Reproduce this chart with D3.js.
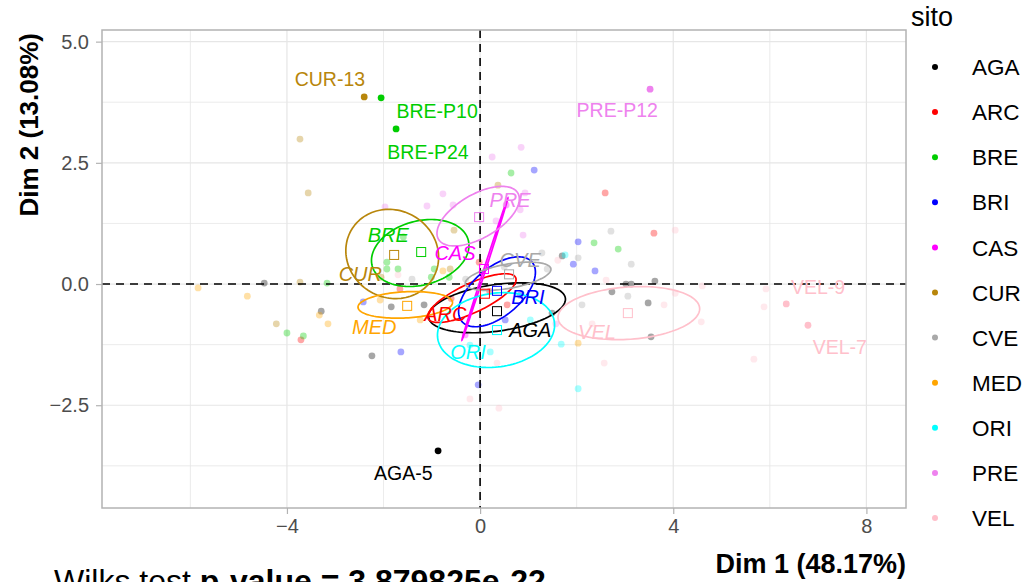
<!DOCTYPE html>
<html><head><meta charset="utf-8">
<script src="https://cdn.jsdelivr.net/npm/d3@7"></script>
<style>body{margin:0;background:#fff}svg{display:block;font-family:"Liberation Sans",Arial,sans-serif}</style>
</head><body><svg id="c" width="1024" height="582"></svg>
<script>
const sites = ["AGA","ARC","BRE","BRI","CAS","CUR","CVE","MED","ORI","PRE","VEL"];
const siteColors = ["#000000","#FF0000","#00CD00","#0000FF","#FF00FF","#B8860B","#A9A9A9","#FFA500","#00FFFF","#EE82EE","#FFC0CB"];
const xTicks = [-4, 0, 4, 8];
const yTicks = [-2.5, 0, 2.5, 5];
const xGrid = [-6, -4, -2, 0, 2, 4, 6, 8];
const yGrid = [-3.75, -2.5, -1.25, 0, 1.25, 2.5, 3.75, 5];

// individual observations (Dim1, Dim2), per site
const obsAGA = [[1.70,0.58],[3.02,0.00],[3.13,0.00],[3.62,0.06],[2.73,-0.16],[3.48,-0.39],[1.49,-0.60],[3.54,-1.09],[-2.24,-1.48],[-4.47,0.02],[-3.29,-0.56],[-1.84,-0.47],[-1.16,-0.43]];
const obsARC = [[2.59,1.88],[3.60,1.05],[-0.02,0.45],[-1.66,-0.10],[-3.71,-1.15],[0.56,-0.43],[-0.60,-0.30],[0.20,-0.15]];
const obsBRE = [[-3.17,0.02],[-4.00,-1.01],[-3.66,-1.07],[0.64,2.29],[2.36,0.85],[2.86,0.72],[-1.59,0.97],[-1.93,0.45],[-1.70,0.31],[-1.93,0.31],[-0.95,0.31],[-1.01,0.14],[-0.64,0.14]];
const obsBRI = [[1.12,2.35],[2.03,0.87],[1.93,0.41],[2.38,0.27],[-2.42,-0.37],[-0.04,-2.08],[-1.64,-1.40],[0.83,-0.23],[0.52,-0.74]];
const obsCAS = [[0.54,1.63],[-0.31,-1.05]];
const obsCUR = [[-3.73,2.99],[-3.56,1.88],[-3.73,0.04],[-4.22,-0.82],[0.37,2.04],[-0.54,1.11],[-0.62,0.31],[-2.05,0.14]];
const obsCVE = [[2.71,1.09],[1.28,0.64],[2.03,0.54],[1.39,0.31],[3.13,0.41],[3.06,-0.25],[2.11,-0.43],[-1.41,0.10],[0.50,0.35],[-0.30,0.10]];
const obsMED = [[-5.84,-0.08],[-4.82,-0.25],[-3.33,-0.64],[-3.15,-0.82],[-0.77,0.27],[2.03,-1.22],[-1.24,-0.74],[-2.07,-0.33]];
const obsORI = [[1.76,0.60],[1.68,-1.24],[2.03,-2.16],[-0.21,-1.26],[1.04,-0.74],[0.21,-1.40]];
const obsPRE = [[0.25,2.62],[0.85,2.82],[-0.77,1.86],[0.93,1.88],[-1.10,1.61],[-0.56,1.63],[0.83,1.53],[-1.97,1.59],[0.33,1.30],[0.89,1.01],[1.57,-0.82]];
const obsVEL = [[4.04,1.11],[1.61,0.49],[2.61,0.08],[4.60,-0.04],[4.04,-0.19],[3.81,-0.43],[2.32,-0.82],[4.58,-0.78],[2.57,-1.63],[5.92,-0.10],[5.88,-0.47],[5.67,-1.55],[-0.21,-2.37],[0.39,-2.56],[0.35,-1.63],[-1.70,0.19]];

// highlighted (labelled) observations
const hiNames = ["CUR-13","BRE-P10","BRE-P24","PRE-P12","VEL-9","VEL-7","AGA-5"];
const hiSite  = ["CUR","BRE","BRE","PRE","VEL","VEL","AGA"];
const hiX     = [-2.40,-2.05,-1.74,3.52,6.34,6.79,-0.87];
const hiY     = [3.86,3.84,3.20,4.02,-0.41,-0.85,-3.44];
const hiLabX  = [-3.11,-0.89,-1.08,2.84,7.00,7.45,-1.59];
const hiLabY  = [4.23,3.57,2.72,3.59,-0.06,-1.30,-3.90];

// group means
const meanX = [0.35,0.10,-1.22,0.35,0.08,-1.78,0.60,-1.51,0.35,-0.02,3.06];
const meanY = [-0.56,-0.20,0.66,-0.14,0.31,0.60,0.20,-0.45,-0.95,1.38,-0.60];
// confidence ellipses: centre, semi-axes, angle (deg)
const ellCX = [0.35,-0.17,-1.24,0.35,0.10,-1.82,0.58,-1.55,0.33,-0.04,3.08];
const ellCY = [-0.49,-0.29,0.64,-0.16,0.31,0.62,0.16,-0.43,-0.95,1.40,-0.60];
const ellA  = [1.43,1.00,1.03,0.95,1.54,0.98,0.90,0.98,1.22,0.95,1.47];
const ellB  = [0.48,0.30,0.66,0.50,0.02,0.90,0.25,0.27,0.76,0.45,0.54];
const ellAng= [8,25,15,40,72,-30,10,3,8,30,4];
// group label positions
const gLabX = [1.04,-0.72,-1.90,0.99,-0.52,-2.48,0.83,-2.19,-0.25,0.62,2.42];
const gLabY = [-0.95,-0.62,1.01,-0.27,0.64,0.21,0.49,-0.89,-1.40,1.73,-0.99];

const obs = {AGA:obsAGA,ARC:obsARC,BRE:obsBRE,BRI:obsBRI,CAS:obsCAS,CUR:obsCUR,CVE:obsCVE,MED:obsMED,ORI:obsORI,PRE:obsPRE,VEL:obsVEL};

const svg = d3.select("#c");
const L=102,R=906,T=30,B=508;
const x = d3.scaleLinear().domain([-7.83,8.82]).range([L,R]);
const y = d3.scaleLinear().domain([-4.62,5.24]).range([B,T]);
const col = d3.scaleOrdinal().domain(sites).range(siteColors);

// grid
const g = svg.append("g");
g.selectAll(".gx").data(xGrid).join("line").attr("x1",d=>x(d)).attr("x2",d=>x(d)).attr("y1",T).attr("y2",B).attr("stroke","#e6e6e6").attr("stroke-width",d=>d%4===0?1.2:0.8);
g.selectAll(".gy").data(yGrid).join("line").attr("y1",d=>y(d)).attr("y2",d=>y(d)).attr("x1",L).attr("x2",R).attr("stroke","#e6e6e6").attr("stroke-width",d=>(d*4)%10===0?1.2:0.8);

// axes
const xa = svg.append("g").attr("transform",`translate(0,${B})`).call(d3.axisBottom(x).tickValues(xTicks).tickSize(6).tickPadding(5).tickFormat(d3.format("d")));
const ya = svg.append("g").attr("transform",`translate(${L},0)`).call(d3.axisLeft(y).tickValues(yTicks).tickSize(6).tickPadding(7).tickFormat(d3.format(".1f")));
[xa,ya].forEach(a=>{a.select(".domain").remove();a.selectAll("line").attr("stroke","#b3b3b3").attr("stroke-width",1.2);a.selectAll("text").attr("fill","#4d4d4d").style("font-size","20px").style("font-family","'Liberation Sans',Arial,sans-serif");});
xa.selectAll("text").attr("dy","0.71em");

// points
const pts = [];
sites.forEach(s=>obs[s].forEach(p=>pts.push({s,x:p[0],y:p[1]})));
svg.append("g").selectAll("circle").data(pts).join("circle").attr("cx",d=>x(d.x)).attr("cy",d=>y(d.y)).attr("r",3.4).attr("fill",d=>col(d.s)).attr("opacity",0.35);

// dashed zero lines
svg.append("line").attr("x1",x(0)).attr("x2",x(0)).attr("y1",T).attr("y2",B).attr("stroke","#000").attr("stroke-width",1.6).attr("stroke-dasharray","8,6");
svg.append("line").attr("y1",y(0)).attr("y2",y(0)).attr("x1",L).attr("x2",R).attr("stroke","#000").attr("stroke-width",1.6).attr("stroke-dasharray","8,6");

// ellipses
const line = d3.line().x(d=>x(d[0])).y(d=>y(d[1])).curve(d3.curveLinearClosed);
sites.forEach((s,i)=>{
  const th = ellAng[i]*Math.PI/180, ptsE=[];
  for(let k=0;k<120;k++){const t=2*Math.PI*k/120;
    ptsE.push([ellCX[i]+ellA[i]*Math.cos(t)*Math.cos(th)-ellB[i]*Math.sin(t)*Math.sin(th), ellCY[i]+ellA[i]*Math.cos(t)*Math.sin(th)+ellB[i]*Math.sin(t)*Math.cos(th)]);}
  svg.append("path").attr("d",line(ptsE)).attr("fill","none").attr("stroke",col(s)).attr("stroke-width",1.7);
});
// means
svg.append("g").selectAll("rect").data(sites).join("rect").attr("x",(d,i)=>x(meanX[i])-4.5).attr("y",(d,i)=>y(meanY[i])-4.5).attr("width",9).attr("height",9).attr("fill","none").attr("stroke",d=>col(d)).attr("stroke-width",1);

// group labels
svg.append("g").selectAll("text").data(sites).join("text").attr("x",(d,i)=>x(gLabX[i])).attr("y",(d,i)=>y(gLabY[i])).attr("text-anchor","middle").attr("dy","0.35em").attr("fill",d=>col(d)).style("font-size","20px").style("font-style","italic").text(d=>d);

// highlighted points
svg.append("g").selectAll("circle").data(hiNames).join("circle").attr("cx",(d,i)=>x(hiX[i])).attr("cy",(d,i)=>y(hiY[i])).attr("r",3.4).attr("fill",(d,i)=>col(hiSite[i]));
svg.append("g").selectAll("text").data(hiNames).join("text").attr("x",(d,i)=>x(hiLabX[i])).attr("y",(d,i)=>y(hiLabY[i])).attr("text-anchor","middle").attr("dy","0.35em").attr("fill",(d,i)=>col(hiSite[i])).style("font-size","19.5px").text(d=>d);

// panel border
svg.append("rect").attr("x",L).attr("y",T).attr("width",R-L).attr("height",B-T).attr("fill","none").attr("stroke","#b3b3b3").attr("stroke-width",1.5);

// axis titles
svg.append("text").attr("x",R).attr("y",573).attr("text-anchor","end").style("font-size","27px").style("font-weight","bold").text("Dim 1 (48.17%)");
svg.append("text").attr("transform",`translate(38,${T+3}) rotate(-90)`).attr("text-anchor","end").style("font-size","26px").style("font-weight","bold").text("Dim 2 (13.08%)");

// legend
svg.append("text").attr("x",911).attr("y",26).style("font-size","27px").text("sito");
const lg = svg.append("g").selectAll("g").data(sites).join("g").attr("transform",(d,i)=>`translate(0,${67+i*45.1})`);
lg.append("circle").attr("cx",935).attr("cy",0).attr("r",3).attr("fill",d=>col(d));
lg.append("text").attr("x",972).attr("y",0).attr("dy","0.36em").style("font-size","22.5px").text(d=>d);

// wilks caption
const cap = svg.append("text").attr("x",54).attr("y",592).style("font-size","32px");
cap.append("tspan").text("Wilks test ");
cap.append("tspan").style("font-weight","bold").text("p-value = 3.879825e-22");
</script></body></html>
